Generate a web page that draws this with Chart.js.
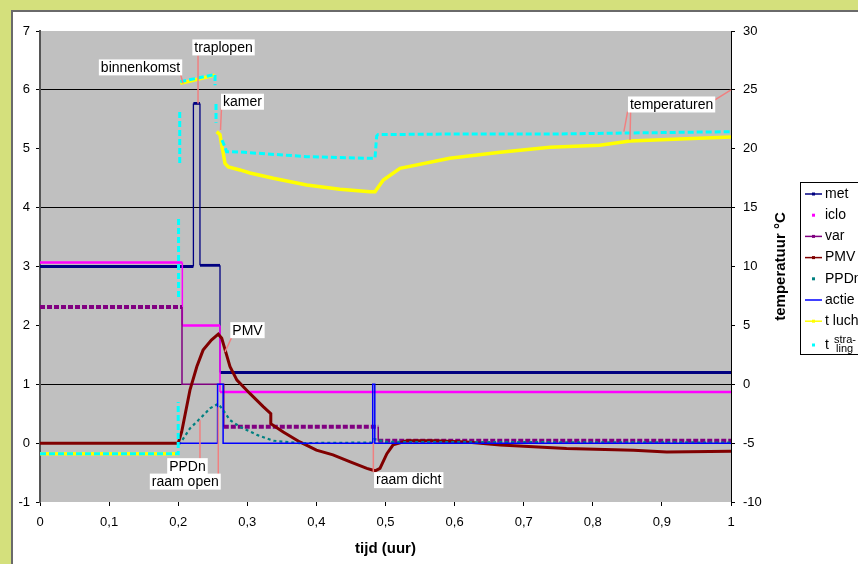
<!DOCTYPE html>
<html>
<head>
<meta charset="utf-8">
<script src="https://cdn.jsdelivr.net/npm/chart.js@4.4.0/dist/chart.umd.min.js"></script>
<style>
  html, body { margin: 0; padding: 0; }
  body { width: 858px; height: 564px; background: #d4e07c; position: relative; overflow: hidden; }
  #frame { position: absolute; left: 11px; top: 10px; width: 860px; height: 560px; background: #fff;
           border-left: 2px solid #6a6a6a; border-top: 2px solid #6a6a6a; }
  #c { position: absolute; left: 0; top: 0; }
</style>
</head>
<body>
<div id="frame"></div>
<canvas id="c" width="858" height="564"></canvas>
<script>
// values, x = tijd (uur); null = gap in the series
const metX = [0, 0.222, 0.222, 0.2315, 0.2315, 0.2605, 0.2605, 1];
const metY = [3.0, 3.0, 5.77, 5.77, 3.02, 3.02, 1.2, 1.2];

const icloX = [0, 0.206, 0.206, 0.2605, 0.2605, 1];
const icloY = [3.07, 3.07, 2.0, 2.0, 0.87, 0.87];

const varX = [0, 0.2055, 0.2055, 0.266, 0.266, 0.4895, 0.4895, 1];
const varY = [2.31, 2.31, 1.0, 1.0, 0.28, 0.28, 0.04, 0.04];

const pmvX = [0, 0.2, 0.205, 0.217, 0.227, 0.236, 0.248, 0.258, 0.263, 0.268, 0.275, 0.285, 0.304, 0.323,
              0.334, 0.334, 0.352, 0.376, 0.40, 0.424, 0.449, 0.473, 0.485, 0.492, 0.502, 0.511, 0.531,
              0.569, 0.617, 0.666, 0.762, 0.859, 0.907, 1.0];
const pmvY = [0, 0, 0.19, 0.90, 1.30, 1.58, 1.75, 1.85, 1.78, 1.58, 1.30, 1.07, 0.84, 0.62,
              0.50, 0.33, 0.19, 0.02, -0.12, -0.20, -0.32, -0.43, -0.47, -0.43, -0.18, -0.03, 0.04,
              0.04, 0.02, -0.03, -0.09, -0.12, -0.15, -0.14];

const ppdX = [0.2, 0.203, 0.217, 0.232, 0.246, 0.258, 0.265, 0.275, 0.289, 0.314, 0.338, 0.376,
              0.48, 0.484, 0.49, 0.5, 1.0];
const ppdY = [0, 0.0, 0.25, 0.42, 0.59, 0.67, 0.56, 0.39, 0.28, 0.14, 0.04, 0.0,
              0.01, 0.07, 0.05, 0.02, 0.01];

const actieX = [0.2, 0.257, 0.257, 0.265, 0.265, 0.4815, 0.4815, 0.4845, 0.4845, 1];
const actieY = [0, 0, 1.0, 1.0, 0, 0, 1.0, 1.0, 0, 0];

// temperatures, right axis (°C)
const tLuchtX = [0, 0.2, 0.2, 0.203, 0.228, 0.253, 0.253, 0.2557, 0.2605, 0.2629, 0.2653, 0.2677, 0.2725,
                 0.2894, 0.3039, 0.3376, 0.386, 0.434, 0.4776, 0.4848, 0.4968, 0.521, 0.593, 0.666,
                 0.738, 0.810, 0.854, 0.926, 1.0];
const tLuchtY = [-5.9, -5.9, null, 25.55, 25.9, 26.25, null, 21.45, 21.2, 20.3, 19.6, 18.76, 18.45,
                 18.2, 17.94, 17.49, 16.92, 16.56, 16.35, 16.35, 17.35, 18.34, 19.2, 19.7,
                 20.12, 20.3, 20.66, 20.83, 21.0];

const tStrX = [0, 0.2, 0.2, 0.2, 0.2005, 0.2005, 0.2005, 0.2022, 0.2022, 0.2022, 0.203, 0.228, 0.2533,
               0.2533, 0.2533, 0.2547, 0.2547, 0.2547, 0.2634, 0.2677, 0.270, 0.2894, 0.386, 0.4776,
               0.4848, 0.4872, 0.489, 0.593, 0.738, 1.0];
const tStrY = [-5.9, -5.9, -1.5, null, 7.4, 14.2, null, 18.8, 23.3, null, 25.7, 26.0, 26.3,
               25.4, null, 23.8, 22.2, null, 20.74, 20.15, 19.75, 19.72, 19.33, 19.19,
               19.2, 21.08, 21.2, 21.25, 21.25, 21.45];

const xTicks = [0, 0.1, 0.2, 0.3, 0.4, 0.5, 0.6, 0.7, 0.8, 0.9, 1];
const gridAt = [6, 4, 1];

// callouts: text, the point(s) they point at, box offset from first target
const notes = [
  { text: 'binnenkomst', box: [-42.5, -16], leaders: [{ x: 0.207, y: 6.11, axis: 'y', s: [39.5, 5] }] },
  { text: 'traplopen', box: [25.5, -56], leaders: [{ x: 0.2287, y: 5.77, axis: 'y', s: [-25.5, 8] }] },
  { text: 'kamer', box: [22, -28.3], leaders: [{ x: 0.2612, y: 21.59, axis: 'y2', s: [-21, 6.3] }] },
  { text: 'temperaturen', box: [47.7, -27.2], leaders: [
      { x: 0.845, y: 21.45, axis: 'y2', s: [-44, 7.2] },
      { x: 0.8538, y: 20.74, axis: 'y2', s: [-41, 7.2] },
      { x: 1.0, y: 25, axis: 'y2', s: [43.3, -4.5] }] },
  { text: 'PMV', box: [22.5, -21.7], leaders: [{ x: 0.2677, y: 1.55, axis: 'y', s: [-15.8, 7.3] }] },
  { text: 'PPDn', box: [-12.5, 46], leaders: [{ x: 0.2315, y: 0.39, axis: 'y', s: [12.5, -7] }] },
  { text: 'raam open', box: [-33, 74.4], leaders: [{ x: 0.258, y: 0.61, axis: 'y', s: [33, -5.5] }] },
  { text: 'raam dicht', box: [35.4, 37], leaders: [{ x: 0.4824, y: 0, axis: 'y', s: [-35.4, -8] }] }
];

const FONT = '"Liberation Sans", Arial, sans-serif';
Chart.defaults.font.family = FONT;
Chart.defaults.color = '#000';

function pts(xs, ys) {
  return xs.map((x, i) => ({ x: x, y: ys[i] }));
}

// flat parts thick, jumps thin
const flatWidth = (thick, thin) => ctx => ctx.p0.parsed.y === ctx.p1.parsed.y ? thick : thin;

const datasets = [
  { label: 'met', data: pts(metX, metY), borderColor: '#000080', yAxisID: 'y', kind: 'linemarker',
    borderWidth: 2.5, segment: { borderWidth: flatWidth(2.8, 1.3) } },
  { label: 'iclo', data: pts(icloX, icloY), borderColor: '#ff00ff', yAxisID: 'y', kind: 'marker',
    borderWidth: 2.5, segment: { borderWidth: flatWidth(2.5, 1.5) } },
  { label: 'var', data: pts(varX, varY), borderColor: '#800080', yAxisID: 'y', kind: 'linemarker',
    borderWidth: 4,
    segment: {
      borderWidth: ctx => (ctx.p0.parsed.y === ctx.p1.parsed.y && ctx.p0.parsed.y !== 1) ? 4 : 1.5,
      borderDash: ctx => (ctx.p0.parsed.y === ctx.p1.parsed.y && ctx.p0.parsed.y !== 1) ? [5, 2] : []
    } },
  { label: 'PMV', data: pts(pmvX, pmvY), borderColor: '#800000', yAxisID: 'y', kind: 'linemarker',
    borderWidth: 3 },
  { label: 'PPDn', data: pts(ppdX, ppdY), borderColor: '#008080', yAxisID: 'y', kind: 'marker',
    borderWidth: 2.2, borderDash: [3, 3] },
  { label: 'actie', data: pts(actieX, actieY), borderColor: '#0000ff', yAxisID: 'y', kind: 'line',
    borderWidth: 1.5 },
  { label: 't lucht', data: pts(tLuchtX, tLuchtY), borderColor: '#ffff00', yAxisID: 'y2', kind: 'linemarker',
    borderWidth: 3.5 },
  { label: 't straling', data: pts(tStrX, tStrY), borderColor: '#00ffff', yAxisID: 'y2', kind: 'marker',
    borderWidth: 3, borderDash: [6, 3] }
];

// later series on top, like the original
datasets.forEach((d, i) => {
  d.order = datasets.length - i;
  d.showLine = true;
  d.fill = false;
  d.pointRadius = 0;
  d.tension = 0;
  d.spanGaps = false;
});

const plotBackground = {
  id: 'plotBackground',
  beforeDraw(chart) {
    const { ctx, chartArea: a } = chart;
    ctx.save();
    ctx.fillStyle = '#c0c0c0';
    ctx.fillRect(a.left, a.top, a.right - a.left, a.bottom - a.top);
    ctx.restore();
  }
};

const overlay = {
  id: 'overlay',
  afterDraw(chart) {
    const ctx = chart.ctx;
    const sx = chart.scales.x;
    ctx.save();

    // callouts
    ctx.font = '14px ' + FONT;
    notes.forEach(n => {
      const t0 = n.leaders[0];
      const bx = sx.getPixelForValue(t0.x) + n.box[0];
      const by = chart.scales[t0.axis].getPixelForValue(t0.y) + n.box[1];
      ctx.strokeStyle = '#f08080';
      ctx.lineWidth = 1.5;
      n.leaders.forEach(l => {
        const px = sx.getPixelForValue(l.x);
        const py = chart.scales[l.axis].getPixelForValue(l.y);
        ctx.beginPath();
        ctx.moveTo(bx + l.s[0], by + l.s[1]);
        ctx.lineTo(px, py);
        ctx.stroke();
      });
      const w = ctx.measureText(n.text).width + 4;
      ctx.fillStyle = '#fff';
      ctx.fillRect(bx - w / 2, by - 8, w, 16);
      ctx.fillStyle = '#000';
      ctx.textAlign = 'center';
      ctx.textBaseline = 'middle';
      ctx.fillText(n.text, bx, by + 0.5);
    });

    // right axis title
    ctx.save();
    ctx.translate(781, (chart.chartArea.top + chart.chartArea.bottom) / 2);
    ctx.rotate(-Math.PI / 2);
    ctx.font = 'bold 15px ' + FONT;
    ctx.fillStyle = '#000';
    ctx.textAlign = 'center';
    ctx.textBaseline = 'middle';
    ctx.fillText('temperatuur °C', 0, 0);
    ctx.restore();

    // legend box (runs off the right edge)
    ctx.fillStyle = '#fff';
    ctx.fillRect(800, 182, 80, 173);
    ctx.strokeStyle = '#000';
    ctx.lineWidth = 1;
    ctx.strokeRect(800.5, 182.5, 80, 172);
    ctx.textAlign = 'left';
    ctx.textBaseline = 'middle';
    chart.data.datasets.forEach((d, i) => {
      const y = i < 7 ? 194 + i * 21.2 : 345;
      ctx.strokeStyle = d.borderColor;
      ctx.fillStyle = d.borderColor;
      if (d.kind !== 'marker') {
        ctx.lineWidth = 1.5;
        ctx.beginPath();
        ctx.moveTo(805, y);
        ctx.lineTo(822, y);
        ctx.stroke();
      }
      if (d.kind !== 'line') {
        ctx.fillRect(812, y - 1.5, 3, 3);
      }
      ctx.fillStyle = '#000';
      if (d.label === 't straling') {
        ctx.font = '14px ' + FONT;
        ctx.fillText('t', 825, y);
        ctx.font = '11px ' + FONT;
        ctx.fillText('stra-', 834, y - 5);
        ctx.fillText('ling', 836, y + 4);
      } else {
        ctx.font = '14px ' + FONT;
        ctx.fillText(d.label, 825, y);
      }
    });
    ctx.restore();
  }
};

const fmt = v => {
  const r = Math.round(v * 10) / 10;
  return String(r).replace('.', ',');
};

new Chart(document.getElementById('c'), {
  type: 'scatter',
  data: { datasets },
  options: {
    responsive: false,
    animation: false,
    events: [],
    layout: { padding: { top: 31, left: 0, right: 0, bottom: 0 } },
    plugins: { legend: { display: false }, tooltip: { enabled: false } },
    scales: {
      x: {
        type: 'linear',
        position: 'bottom',
        min: 0,
        max: 1,
        afterBuildTicks: s => { s.ticks = xTicks.map(v => ({ value: v })); },
        ticks: { padding: 9, font: { size: 13 }, callback: fmt, maxRotation: 0, autoSkip: false },
        grid: { drawOnChartArea: false, drawTicks: true, tickLength: 4, color: '#000' },
        border: { display: false },
        title: { display: true, text: 'tijd (uur)', font: { size: 15, weight: 'bold' },
                 padding: { top: 0, bottom: 6 } },
        afterFit: s => { s.height = 62; }
      },
      y: {
        type: 'linear',
        position: 'left',
        min: -1,
        max: 7,
        ticks: { stepSize: 1, padding: 6, font: { size: 13 } },
        grid: {
          color: c => gridAt.includes(c.tick.value) ? '#000' : 'rgba(0,0,0,0)',
          tickColor: '#000',
          tickLength: 4,
          lineWidth: 1
        },
        border: { display: true, color: '#555', width: 2 },
        afterFit: s => { s.width = 40; }
      },
      y2: {
        type: 'linear',
        position: 'right',
        min: -10,
        max: 30,
        ticks: { stepSize: 5, padding: 8, font: { size: 13 } },
        grid: { drawOnChartArea: false, tickColor: '#000', tickLength: 4 },
        border: { display: true, color: '#000', width: 1 },
        afterFit: s => { s.width = 127; }
      }
    }
  },
  plugins: [plotBackground, overlay]
});
</script>
</body>
</html>
